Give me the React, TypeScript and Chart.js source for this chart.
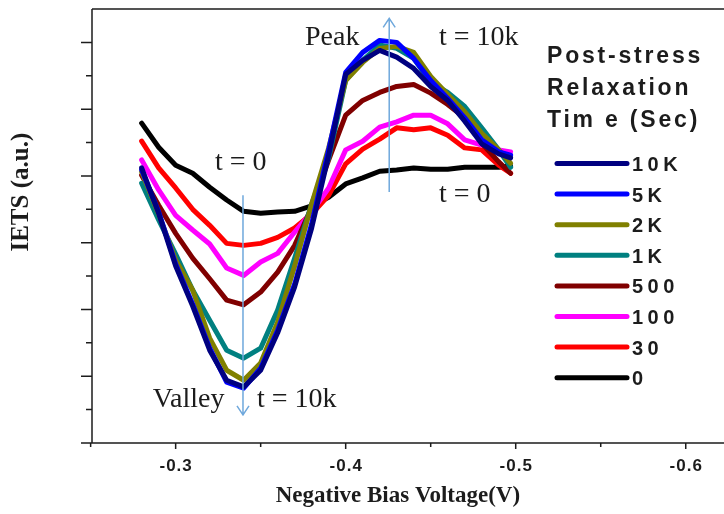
import React, { useEffect, useRef } from "react";
import { Chart, registerables } from "chart.js";

Chart.register(...registerables);

// Bias sweep (V) shared by every relaxation-time trace
const biasVoltage = [
  -0.28, -0.29, -0.3, -0.31, -0.32, -0.33, -0.34, -0.35, -0.36, -0.37, -0.38, -0.39,
  -0.4, -0.41, -0.42, -0.43, -0.44, -0.45, -0.46, -0.47, -0.48, -0.49, -0.497,
];

// IETS signal (a.u.) for each post-stress relaxation time
const iets10k = [4.12, 3.44, 2.65, 2.05, 1.39, 0.94, 0.84, 1.09, 1.65, 2.34, 3.22, 4.31, 5.52, 5.73, 5.88, 5.78, 5.61, 5.34, 5.13, 4.82, 4.48, 4.33, 4.27];
const iets5k = [4.09, 3.46, 2.68, 2.08, 1.42, 0.91, 0.82, 1.12, 1.69, 2.38, 3.28, 4.39, 5.55, 5.85, 6.03, 6.0, 5.76, 5.43, 5.16, 4.87, 4.54, 4.36, 4.31];
const iets2k = [4.06, 3.43, 2.74, 2.29, 1.57, 1.09, 0.94, 1.2, 1.81, 2.65, 3.58, 4.42, 5.43, 5.7, 5.91, 5.94, 5.85, 5.49, 5.22, 4.96, 4.64, 4.39, 4.19];
const iets1k = [3.89, 3.34, 2.83, 2.29, 1.84, 1.39, 1.27, 1.42, 1.99, 2.77, 3.58, 4.27, 5.43, 5.73, 5.96, 5.91, 5.76, 5.4, 5.25, 5.04, 4.72, 4.39, 4.13];
const iets500 = [4.01, 3.56, 3.14, 2.77, 2.46, 2.14, 2.07, 2.26, 2.56, 2.96, 3.53, 4.24, 4.91, 5.13, 5.25, 5.34, 5.37, 5.24, 5.07, 4.87, 4.49, 4.21, 4.04];
const iets100 = [4.24, 3.79, 3.41, 3.19, 2.98, 2.62, 2.51, 2.71, 2.84, 3.16, 3.46, 3.82, 4.39, 4.52, 4.73, 4.81, 4.91, 4.91, 4.78, 4.54, 4.46, 4.39, 4.36];
const iets30 = [4.52, 4.12, 3.82, 3.5, 3.26, 2.99, 2.96, 2.99, 3.08, 3.22, 3.43, 3.71, 4.18, 4.4, 4.55, 4.72, 4.69, 4.72, 4.61, 4.42, 4.39, 4.16, 4.04];
const iets0 = [4.79, 4.43, 4.16, 4.04, 3.83, 3.64, 3.47, 3.44, 3.46, 3.47, 3.55, 3.68, 3.88, 3.97, 4.07, 4.09, 4.12, 4.1, 4.1, 4.13, 4.13, 4.13, 4.15];

const seriesValues = [iets10k, iets5k, iets2k, iets1k, iets500, iets100, iets30, iets0];
const seriesLabels = ["10K", "5K", "2K", "1K", "500", "100", "30", "0"];
const seriesColors = ["#000080", "#0000ff", "#808000", "#008080", "#800000", "#ff00ff", "#ff0000", "#000000"];

const legendTitle = ["Post-stress", "Relaxation", "Tim e (Sec)"];

// Axis ticks
const xMajorTicks = [-0.3, -0.4, -0.5, -0.6];
const xMinorTicks = [-0.25, -0.35, -0.45, -0.55];
const yMajorTicks = [1, 2, 3, 4, 5, 6];
const yMinorTicks = [0.5, 1.5, 2.5, 3.5, 4.5, 5.5];

// Text notes and arrows placed in data coordinates
const noteTexts = ["Peak", "t = 10k", "t = 0", "t = 0", "Valley", "t = 10k"];
const noteX = [-0.3761, -0.4549, -0.3231, -0.4549, -0.2866, -0.3478];
const noteY = [5.96, 5.96, 4.09, 3.61, 0.54, 0.54];

const valleyArrow = { x: -0.3396, from: 3.71, to: 0.42 };
const peakArrow = { x: -0.4256, from: 3.76, to: 6.36 };

const SERIF = '"Liberation Serif", "Times New Roman", serif';
const SANS = '"Liberation Sans", Arial, sans-serif';
const INK = "#1c1c1c";

const decorations = {
  id: "decorations",
  afterDatasetsDraw(chart: any) {
    const { ctx, chartArea: a, scales } = chart;
    const x = scales.x;
    const y = scales.y;
    ctx.save();

    // arrows
    const drawArrow = (ax: number, from: number, to: number) => {
      const px = x.getPixelForValue(ax);
      const p0 = y.getPixelForValue(from);
      const p1 = y.getPixelForValue(to);
      const dir = p1 > p0 ? 1 : -1;
      ctx.strokeStyle = "#6fa8dc";
      ctx.lineWidth = 1.5;
      ctx.beginPath();
      ctx.moveTo(px, p0);
      ctx.lineTo(px, p1);
      ctx.moveTo(px - 6, p1 - dir * 9);
      ctx.lineTo(px, p1);
      ctx.lineTo(px + 6, p1 - dir * 9);
      ctx.stroke();
    };
    drawArrow(valleyArrow.x, valleyArrow.from, valleyArrow.to);
    drawArrow(peakArrow.x, peakArrow.from, peakArrow.to);

    // notes
    ctx.fillStyle = INK;
    ctx.font = `28px ${SERIF}`;
    ctx.textAlign = "left";
    ctx.textBaseline = "alphabetic";
    noteTexts.forEach((t, i) => {
      ctx.fillText(t, x.getPixelForValue(noteX[i]), y.getPixelForValue(noteY[i]));
    });

    // frame and axes
    ctx.strokeStyle = INK;
    ctx.lineWidth = 1.5;
    ctx.beginPath();
    ctx.moveTo(a.left, a.top);
    ctx.lineTo(a.right, a.top);
    ctx.moveTo(a.left, a.top);
    ctx.lineTo(a.left, a.bottom);
    ctx.moveTo(a.left - 11, a.bottom);
    ctx.lineTo(a.right, a.bottom);
    ctx.stroke();

    ctx.beginPath();
    yMajorTicks.forEach((v) => {
      const py = y.getPixelForValue(v);
      ctx.moveTo(a.left - 11, py);
      ctx.lineTo(a.left, py);
    });
    yMinorTicks.forEach((v) => {
      const py = y.getPixelForValue(v);
      ctx.moveTo(a.left - 6, py);
      ctx.lineTo(a.left, py);
    });
    xMajorTicks.forEach((v) => {
      const px = x.getPixelForValue(v);
      ctx.moveTo(px, a.bottom);
      ctx.lineTo(px, a.bottom + 6);
    });
    xMinorTicks.forEach((v) => {
      const px = x.getPixelForValue(v);
      ctx.moveTo(px, a.bottom);
      ctx.lineTo(px, a.bottom + 4);
    });
    ctx.stroke();

    // tick labels
    ctx.fillStyle = INK;
    ctx.font = `bold 17px ${SANS}`;
    (ctx as any).letterSpacing = "1px";
    ctx.textAlign = "center";
    ctx.textBaseline = "middle";
    xMajorTicks.forEach((v) => {
      ctx.fillText(v.toFixed(1), x.getPixelForValue(v) + 0.5, a.bottom + 23);
    });
    (ctx as any).letterSpacing = "0px";

    // axis titles
    ctx.font = `bold 23px ${SERIF}`;
    ctx.fillText("Negative Bias Voltage(V)", a.left + (a.right - a.left) * 0.484, a.bottom + 53);
    ctx.save();
    ctx.translate(22, a.top + (a.bottom - a.top) * 0.422);
    ctx.rotate(-Math.PI / 2);
    ctx.font = `bold 25px ${SERIF}`;
    ctx.fillText("IETS (a.u.)", 0, 0);
    ctx.restore();

    // legend
    const lx = a.left + 455;
    ctx.textAlign = "left";
    ctx.textBaseline = "alphabetic";
    ctx.font = `bold 23px ${SANS}`;
    (ctx as any).letterSpacing = "2.8px";
    legendTitle.forEach((t, i) => {
      ctx.fillText(t, lx, a.top + 54 + i * 32);
    });
    ctx.font = `bold 20px ${SANS}`;
    (ctx as any).letterSpacing = "4.5px";
    ctx.textBaseline = "middle";
    chart.data.datasets.forEach((ds: any, i: number) => {
      const ly = a.top + 154.5 + i * 30.6;
      ctx.strokeStyle = ds.borderColor;
      ctx.lineWidth = 5;
      ctx.lineCap = "round";
      ctx.beginPath();
      ctx.moveTo(lx + 10, ly);
      ctx.lineTo(lx + 80, ly);
      ctx.stroke();
      ctx.fillText(ds.label, lx + 85, ly + 2);
    });
    (ctx as any).letterSpacing = "0px";
    ctx.restore();
  },
};

export default function App() {
  const canvasRef = useRef<HTMLCanvasElement | null>(null);

  useEffect(() => {
    const canvas = canvasRef.current;
    if (!canvas) return;
    const chart = new Chart(canvas, {
      type: "line",
      data: {
        datasets: seriesValues.map((vals, i) => ({
          label: seriesLabels[i],
          data: vals.map((v, j) => ({ x: biasVoltage[j], y: v })),
          borderColor: seriesColors[i],
          backgroundColor: seriesColors[i],
          borderWidth: 5,
          pointRadius: 0,
          tension: 0,
          borderJoinStyle: "round",
          borderCapStyle: "round",
          fill: false,
        })),
      },
      options: {
        responsive: false,
        animation: false,
        devicePixelRatio: 1,
        layout: { padding: { left: 92, top: 9, right: 0, bottom: 71 } },
        plugins: { legend: { display: false }, tooltip: { enabled: false } },
        scales: {
          x: { type: "linear", display: false, reverse: true, min: -0.6225, max: -0.2508 },
          y: { type: "linear", display: false, min: 0, max: 6.5 },
        },
      },
      plugins: [decorations],
    });
    return () => chart.destroy();
  }, []);

  return (
    <div style={{ position: "absolute", left: 0, top: 0, width: 724, height: 514, background: "#fff" }}>
      <canvas ref={canvasRef} width={724} height={514} style={{ display: "block" }} />
    </div>
  );
}
